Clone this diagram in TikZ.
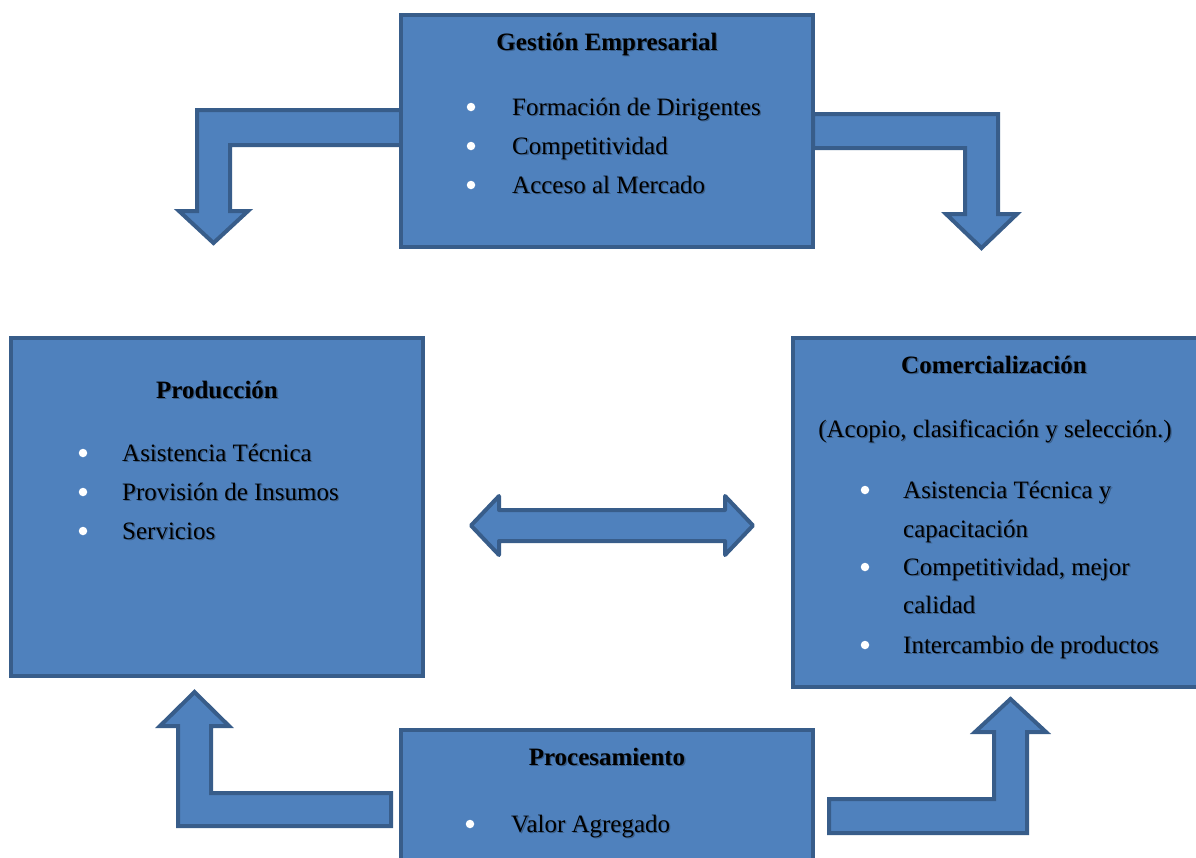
\documentclass[tikz,border=0pt]{standalone}
\usepackage{fontspec}
\setmainfont{Liberation Serif}
\usetikzlibrary{calc}

\definecolor{boxfill}{HTML}{4F81BD}
\definecolor{boxline}{HTML}{385D8A}

\tikzset{
  block/.style={rectangle, draw=boxline, fill=boxfill, line width=4pt, inner sep=0pt},
  blockarrow/.style={draw=boxline, fill=boxfill, line width=4pt, line join=miter},
  txtmain/.style={inner sep=0pt, anchor=base west, font=\fontsize{25}{30}\selectfont, text=black},
  txtshade/.style={txtmain, opacity=0.28},
  titletext/.style={anchor=base, font=\fontsize{25}{30}\selectfont\bfseries},
  dot/.style={circle, fill=white, inner sep=0pt, minimum size=8.5pt},
}

% text with a soft drop shadow
\newcommand\shadedtext[4][]{%
  \node[txtshade,#1] at ($(#3)+(1.3,1.3)$) {#4};
  \node[txtmain,#1] (#2) at (#3) {#4};}

% bulleted item: name, bullet x, text x, baseline y, text
\newcommand\bulleted[5]{%
  \node[dot] (#1-dot) at (#2,#4-8) {};
  \shadedtext{#1}{#3,#4}{#5}}

\begin{document}
\begin{tikzpicture}[x=1pt, y=-1pt]
  \useasboundingbox (0,0) rectangle (1196,857);
  \clip (0,0) rectangle (1196,857);

  % bent and double block arrows
  \draw[blockarrow] (401,110) -- (197,110) -- (197,211) -- (179,211) -- (213.5,243)
    -- (248,211) -- (230,211) -- (230,145) -- (401,145) -- cycle;
  \draw[blockarrow] (813,114) -- (998,114) -- (998,214) -- (1017,214) -- (981.5,248)
    -- (946,214) -- (965,214) -- (965,148) -- (813,148) -- cycle;
  \draw[blockarrow, line join=round] (471,525.5) -- (499,496) -- (499,510) -- (725,510)
    -- (725,496) -- (753,525.5) -- (725,555) -- (725,541) -- (499,541) -- (499,555) -- cycle;
  \draw[blockarrow] (391,826) -- (178,826) -- (178,726) -- (160,726) -- (194.5,692)
    -- (229,726) -- (211,726) -- (211,793) -- (391,793) -- cycle;
  \draw[blockarrow] (829,799) -- (994,799) -- (994,732) -- (975,732) -- (1010.5,699)
    -- (1046,732) -- (1027,732) -- (1027,833) -- (829,833) -- cycle;

  % boxes
  \node[block, minimum width=412pt, minimum height=232pt] (gestion) at (607,131) {};
  \node[block, minimum width=412pt, minimum height=338pt] (produccion) at (217,507) {};
  \node[block, minimum width=412pt, minimum height=349pt] (comercial) at (999,512.5) {};
  \node[block, minimum width=412pt, minimum height=170pt] (procesa) at (607,815) {};

  % Gestión Empresarial
  \shadedtext[titletext]{gtitle}{607,50}{Gestión Empresarial}
  \bulleted{g1}{471}{512}{115}{Formación de Dirigentes}
  \bulleted{g2}{471}{512}{154}{Competitividad}
  \bulleted{g3}{471}{512}{193}{Acceso al Mercado}

  % Producción
  \shadedtext[titletext]{ptitle}{217,398}{Producción}
  \bulleted{p1}{83}{122}{461}{Asistencia Técnica}
  \bulleted{p2}{83}{122}{500}{Provisión de Insumos}
  \bulleted{p3}{83}{122}{539}{Servicios}

  % Comercialización
  \shadedtext[titletext]{ctitle}{994,373}{Comercialización}
  \shadedtext[anchor=base]{csub}{995,437}{(Acopio, clasificación y selección.)}
  \bulleted{c1}{865}{903}{498}{Asistencia Técnica y}
  \shadedtext{c1b}{903,537}{capacitación}
  \bulleted{c2}{865}{903}{575}{Competitividad, mejor}
  \shadedtext{c2b}{903,613}{calidad}
  \bulleted{c3}{865}{903}{653}{Intercambio de productos}

  % Procesamiento
  \shadedtext[titletext]{rtitle}{607,765}{Procesamiento}
  \bulleted{r1}{470}{511}{832}{Valor Agregado}
\end{tikzpicture}
\end{document}
